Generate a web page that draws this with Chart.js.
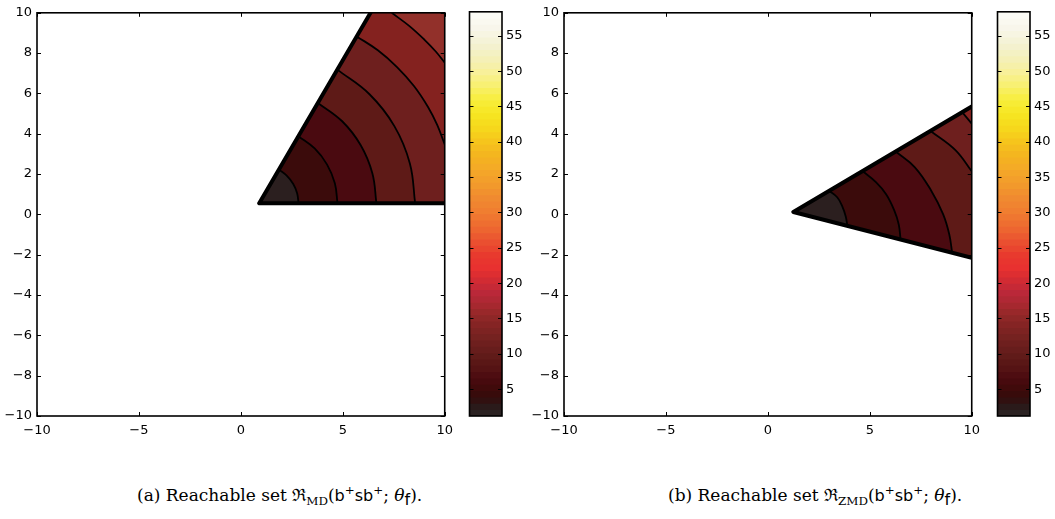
<!DOCTYPE html>
<html>
<head>
<meta charset="utf-8">
<script src="https://cdn.jsdelivr.net/npm/chart.js@4.4.1/dist/chart.umd.min.js"></script>
<style>
  body{margin:0;background:#fff;}
  #wrap{position:relative;width:1055px;height:519px;overflow:hidden;}
  canvas{position:absolute;top:0;}
  .cap{position:absolute;top:483px;font:17px "DejaVu Serif","Liberation Serif",serif;white-space:nowrap;color:#000;}
  .sf{font-family:"DejaVu Sans",sans-serif;font-size:16px;}
  sub,sup{font-size:70%;line-height:0;}
</style>
</head>
<body>
<div id="wrap">
  <canvas id="plotA" width="460" height="440" style="left:0px"></canvas>
  <canvas id="barA" width="62" height="440" style="left:460px"></canvas>
  <canvas id="plotB" width="460" height="440" style="left:527px"></canvas>
  <canvas id="barB" width="62" height="440" style="left:988px"></canvas>
  <div class="cap" style="left:137px">(a) Reachable set ℜ<sub>MD</sub>(<span class="sf">b</span><sup>+</sup><span class="sf">sb</span><sup>+</sup>; <i>θ</i><sub class="sf">f</sub>).</div>
  <div class="cap" style="left:668px">(b) Reachable set ℜ<sub>ZMD</sub>(<span class="sf">b</span><sup>+</sup><span class="sf">sb</span><sup>+</sup>; <i>θ</i><sub class="sf">f</sub>).</div>
</div>
<script>
// axes
const xTicks = [-10, -5, 0, 5, 10];
const yTicks = [-10, -8, -6, -4, -2, 0, 2, 4, 6, 8, 10];
const cbarTicks = [5, 10, 15, 20, 25, 30, 35, 40, 45, 50, 55];
const cbarLimits = [1.2, 58.4];

// (a) reachable set, MD
const apexA = [0.9, 0.55];
const upperEndA = [6.36, 10];
const cornersA = [[10, 10]];
const lowerEndA = [10, 0.55];
const contoursA = [
    [[1.87, 2.22], [2.26, 1.91], [2.57, 1.51], [2.76, 1.05], [2.83, 0.55]],
    [[2.82, 3.88], [3.62, 3.27], [4.23, 2.47], [4.61, 1.54], [4.74, 0.55]],
    [[3.78, 5.53], [4.97, 4.62], [5.88, 3.43], [6.45, 2.04], [6.65, 0.55]],
    [[4.73, 7.18], [6.31, 5.96], [7.53, 4.38], [8.29, 2.53], [8.55, 0.55]],
    [[5.68, 8.83], [6.72, 8.14], [7.66, 7.31], [8.49, 6.37], [9.18, 5.33], [9.63, 4.44], [10, 3.47]],
    [[7.40, 10], [8.27, 9.34], [9.01, 8.66], [9.56, 8.08], [10, 7.53]]
];
const bandColorsA = ['#2b1f1f', '#3b0b0b', '#4a0a10', '#5e1a17', '#6e1f1e', '#84221f', '#92302a'];

// (b) reachable set, ZMD
const apexB = [1.25, 0.12];
const upperEndB = [10, 5.35];
const cornersB = [];
const lowerEndB = [10, -2.15];
const contoursB = [
    [[3.0, 1.17], [3.4, 0.85], [3.65, 0.4], [3.82, -0.1], [3.9, -0.57]],
    [[4.64, 2.15], [5.3, 1.6], [5.8, 1.0], [6.2, 0.2], [6.42, -0.5], [6.51, -1.24]],
    [[6.27, 3.12], [7.2, 2.35], [8.0, 1.2], [8.6, 0.0], [8.9, -1.0], [9.04, -1.9]],
    [[7.98, 4.14], [9.2, 3.19], [10, 2.14]],
    [[9.53, 5.07], [10, 4.5]]
];
const bandColorsB = ['#2b1f1f', '#3b0b0b', '#4a0a10', '#5e1a17', '#6e1f1e', '#84221f'];

// colormap anchors [value, colour]
const cmapAnchors = [
    [1.2, '#2b2626'], [2.5, '#2a1a1a'], [3.8, '#340c0c'], [5, '#3e0a0a'], [6.5, '#4a0a0f'],
    [8, '#561414'], [9.5, '#5e1a18'], [11, '#6a1e1d'], [12.5, '#762220'], [14, '#842423'],
    [15.5, '#922828'], [17, '#a82830'], [18.5, '#b8283a'], [20, '#cc2a34'], [22, '#e83030'],
    [24, '#e83a2e'], [26, '#ea5230'], [28, '#ee6a30'], [30, '#f07c30'], [32, '#f08a30'],
    [34, '#f29a2c'], [36, '#f4a828'], [38, '#f4b420'], [40, '#f6c41c'], [42, '#f6d81c'],
    [44, '#f6e622'], [46, '#f8ee3c'], [48, '#f8f070'], [50, '#f8f09c'], [52, '#f4f0bc'],
    [54, '#f4f2d4'], [56, '#f8f6ea'], [58.4, '#fcfcf8']
];
const cbarSteps = 64;

Chart.defaults.font.family = "'DejaVu Sans', sans-serif";
Chart.defaults.font.size = 13;
Chart.defaults.color = '#000';

function tickFmt(v){ return v < 0 ? '\u2212' + Math.abs(v) : String(v); }

function hexRgb(h){ return [1, 3, 5].map(i => parseInt(h.substr(i, 2), 16)); }
function cmap(v){
    for (let i = 1; i < cmapAnchors.length; i++) {
        const [v1, c1] = cmapAnchors[i];
        if (v <= v1 || i === cmapAnchors.length - 1) {
            const [v0, c0] = cmapAnchors[i - 1];
            const t = Math.max(0, Math.min(1, (v - v0) / (v1 - v0)));
            const a = hexRgb(c0), b = hexRgb(c1);
            return 'rgb(' + a.map((x, k) => Math.round(x + (b[k] - x) * t)).join(',') + ')';
        }
    }
}

// box + inward tick marks on every side
const framePlugin = {
    id: 'frame',
    afterDraw(chart){
        const {ctx, chartArea: a} = chart;
        const L = 4;
        ctx.save();
        ctx.strokeStyle = '#000';
        ctx.lineWidth = 1;
        ctx.beginPath();
        Object.values(chart.scales).forEach(s => {
            if (!s.options.display) return;
            s.ticks.forEach(t => {
                const p = Math.round(s.getPixelForValue(t.value)) + 0.5;
                if (s.isHorizontal()) {
                    ctx.moveTo(p, a.bottom); ctx.lineTo(p, a.bottom - L);
                    ctx.moveTo(p, a.top); ctx.lineTo(p, a.top + L);
                } else {
                    ctx.moveTo(a.left, p); ctx.lineTo(a.left + L, p);
                    ctx.moveTo(a.right, p); ctx.lineTo(a.right - L, p);
                }
            });
        });
        ctx.stroke();
        ctx.lineWidth = 1.6;
        ctx.strokeRect(a.left, a.top, a.width, a.height);
        ctx.restore();
    }
};

function makePlot(id, set){
    const pt = p => ({x: p[0], y: p[1]});
    const datasets = set.contours.map(pts => ({
        data: pts.map(pt), borderColor: '#000', borderWidth: 1.8,
        tension: 0.4, pointRadius: 0, fill: false
    }));
    datasets.push({
        data: [set.upperEnd, set.apex, set.lowerEnd].map(pt), borderColor: '#000', borderWidth: 4,
        tension: 0, pointRadius: 0, fill: false, borderJoinStyle: 'round', borderCapStyle: 'round'
    });

    // filled contour bands, outermost first
    const bandsPlugin = {
        id: 'bands',
        beforeDatasetsDraw(chart){
            const {ctx, chartArea: a, scales: {x, y}} = chart;
            const px = p => [x.getPixelForValue(p[0]), y.getPixelForValue(p[1])];
            ctx.save();
            ctx.beginPath(); ctx.rect(a.left, a.top, a.width, a.height); ctx.clip();
            ctx.fillStyle = set.colors[set.colors.length - 1];
            ctx.beginPath();
            [set.apex, set.upperEnd, ...set.corners, set.lowerEnd].forEach((p, i) => {
                const [u, v] = px(p);
                i ? ctx.lineTo(u, v) : ctx.moveTo(u, v);
            });
            ctx.closePath(); ctx.fill();
            for (let i = set.contours.length - 1; i >= 0; i--) {
                const line = chart.getDatasetMeta(i).dataset;
                line.updateControlPoints(a, 'x');
                ctx.fillStyle = set.colors[i];
                ctx.beginPath();
                ctx.moveTo(...px(set.apex));
                ctx.lineTo(...px(set.upperEnd));
                line.pathSegment(ctx, line.segments[0], {move: false});
                ctx.lineTo(...px(set.lowerEnd));
                ctx.closePath(); ctx.fill();
            }
            ctx.restore();
        }
    };

    return new Chart(document.getElementById(id), {
        type: 'line',
        data: {datasets},
        options: {
            responsive: false, animation: false, events: [],
            layout: {padding: {top: 7, right: 14, bottom: 0, left: 0}},
            elements: {line: {capBezierPoints: false}},
            plugins: {legend: {display: false}, tooltip: {enabled: false}},
            scales: {
                x: {
                    type: 'linear', min: -10, max: 10, bounds: 'data',
                    grid: {display: false, drawTicks: false}, border: {display: false},
                    afterBuildTicks: s => { s.ticks = xTicks.map(v => ({value: v})); },
                    afterFit: s => { s.height = 24; },
                    ticks: {padding: 7, callback: tickFmt, maxRotation: 0, autoSkip: false}
                },
                y: {
                    type: 'linear', min: -10, max: 10, bounds: 'data',
                    grid: {display: false, drawTicks: false}, border: {display: false},
                    afterBuildTicks: s => { s.ticks = yTicks.map(v => ({value: v})); },
                    afterFit: s => { s.width = 37; },
                    ticks: {padding: 5, callback: tickFmt, autoSkip: false}
                }
            }
        },
        plugins: [bandsPlugin, framePlugin]
    });
}

function makeBar(id){
    const [lo, hi] = cbarLimits;
    const d = (hi - lo) / cbarSteps;
    const datasets = [];
    for (let i = cbarSteps - 1; i >= 0; i--) {
        datasets.push({
            data: [[lo + i * d, hi]], backgroundColor: cmap(lo + (i + 0.5) * d),
            borderWidth: 0, barPercentage: 1, categoryPercentage: 1, grouped: false
        });
    }
    return new Chart(document.getElementById(id), {
        type: 'bar',
        data: {labels: [''], datasets},
        options: {
            responsive: false, animation: false, events: [],
            layout: {padding: {top: 7, right: 0, bottom: 24, left: 9.5}},
            plugins: {legend: {display: false}, tooltip: {enabled: false}},
            scales: {
                x: {display: false},
                y: {
                    position: 'right', min: lo, max: hi, bounds: 'data',
                    grid: {display: false, drawTicks: false}, border: {display: false},
                    afterBuildTicks: s => { s.ticks = cbarTicks.map(v => ({value: v})); },
                    afterFit: s => { s.width = 20; },
                    ticks: {padding: 4, autoSkip: false}
                }
            }
        },
        plugins: [framePlugin]
    });
}

document.addEventListener('DOMContentLoaded', () => {
    makePlot('plotA', {apex: apexA, upperEnd: upperEndA, corners: cornersA, lowerEnd: lowerEndA, contours: contoursA, colors: bandColorsA});
    makePlot('plotB', {apex: apexB, upperEnd: upperEndB, corners: cornersB, lowerEnd: lowerEndB, contours: contoursB, colors: bandColorsB});
    makeBar('barA');
    makeBar('barB');
});
</script>
</body>
</html>
